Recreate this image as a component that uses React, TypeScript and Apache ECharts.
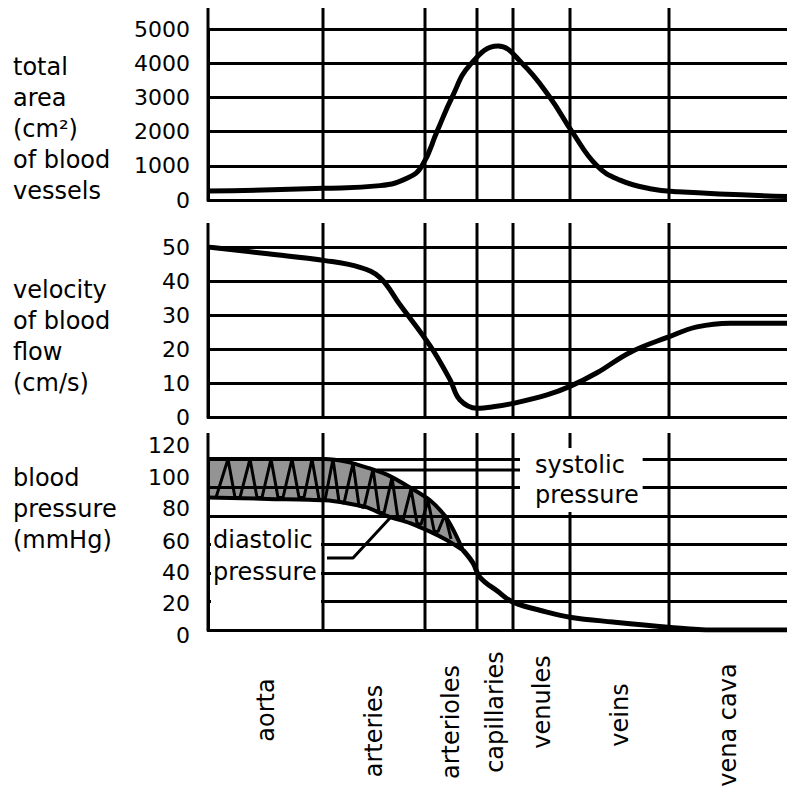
import React, { useEffect, useRef } from 'react';
import * as echarts from 'echarts';

// ---- data ----
const categories = ['aorta', 'arteries', 'arterioles', 'capillaries', 'venules', 'veins', 'vena cava'];
// boundaries between vessel segments along the (arbitrary) path axis
const bounds = [0, 115, 217, 269, 305, 362, 461, 579];

// total cross-sectional area (cm²)
const areaX = [0, 115, 172, 200, 214, 229, 244, 262, 290, 314, 342, 364, 389, 412, 442, 470, 579];
const areaY = [260, 340, 420, 650, 1000, 2000, 3000, 3950, 4500, 4000, 3000, 2000, 1000, 580, 330, 240, 100];

// velocity of blood flow (cm/s)
const velX = [0, 60, 117, 152, 172, 192, 222, 242, 252, 269, 285, 305, 339, 362, 389, 422, 460, 489, 522, 579];
const velY = [50, 48, 46, 44, 41, 33, 21, 11, 5, 2.6, 3, 4, 6.5, 9, 13, 19, 23.5, 26.5, 27.6, 27.6];

// blood pressure envelopes (mmHg)
const envX = [0, 60, 117, 139, 159, 179, 202, 222, 239, 255];
const systolicY = [120, 120, 120, 118, 114, 109, 100, 91, 78, 56];
const diastolicY = [93, 92, 91, 89, 86, 80, 75, 69, 63, 56];

// pulsating pressure trace
const pulseX = [0, 8, 20, 27, 32, 42, 49, 54, 63, 70, 75, 84, 91, 96, 104, 111, 117, 125, 131, 136, 145, 151, 156, 165, 171, 176, 184, 190, 195, 203, 209, 213, 220, 226, 230, 237, 243];
const pulseY = [93, 93, 120, 93, 93, 120, 93, 93, 120, 93, 93, 120, 93, 93, 120, 92, 91, 120, 90, 89, 117, 87, 86, 113, 83, 82, 107, 78, 77, 99, 75, 74, 91, 70, 69, 81, 64];

// mean pressure after the pulse dies out
const meanX = [255, 265, 272, 290, 305, 339, 362, 405, 460, 505, 579];
const meanY = [56, 47, 37, 27, 19.6, 12.6, 9, 5.6, 2, 0, 0];

// leader lines for annotations (path unit, mmHg)
const diaLeaderX = [119, 145, 182];
const diaLeaderY = [50.5, 50.5, 78.6];
const sysLeaderX = [169, 312];
const sysLeaderY = [112.3, 112.3];

const yMax = [5000, 50, 120];
const yInterval = [1000, 10, 20];
const panelTitles = [
  'total\narea\n(cm²)\nof blood\nvessels',
  'velocity\nof blood\nflow\n(cm/s)',
  'blood\npressure\n(mmHg)',
];

// ---- layout ----
const FONT = '"DejaVu Sans", "Liberation Sans", sans-serif';
const grids = [
  { left: 208, top: 29, width: 579, height: 171 },
  { left: 208, top: 247, width: 579, height: 170 },
  { left: 208, top: 459, width: 579, height: 171 },
];
const lineExtendTop = [21, 24, 26];
const titleTop = [51.5, 274.5, 462.5];
const labelCenterY = [710, 731, 722, 712, 702, 715, 725];
// hand-drawn pressure tick labels sit slightly off their grid lines: [padTop, padBottom]
const bpLabelPad: Record<number, number[]> = {
  0: [10, 0], 20: [3, 0], 40: [0, 2], 60: [0, 7], 80: [0, 16], 100: [0, 21], 120: [0, 28],
};

const zip = (xs: number[], ys: number[]) => xs.map((x, i) => [x, ys[i]]);

export default function App() {
  const ref = useRef<HTMLDivElement>(null);

  useEffect(() => {
    if (!ref.current) return;
    const chart = echarts.init(ref.current, null, { renderer: 'svg' });

    const baseLabel = { color: '#000', fontSize: 22, fontFamily: FONT };
    const bpRich: Record<string, any> = {};
    Object.keys(bpLabelPad).forEach((k) => {
      const p = bpLabelPad[Number(k)];
      bpRich['p' + k] = { ...baseLabel, padding: [p[0], 0, p[1], 0] };
    });

    const xAxis = grids.map((_, i) => ({
      type: 'value',
      gridIndex: i,
      min: 0,
      max: bounds[bounds.length - 1],
      axisLine: { show: true, lineStyle: { color: '#000', width: 3 } },
      axisTick: { show: false },
      axisLabel: { show: false },
      splitLine: { show: false },
    }));
    const yAxis = grids.map((_, i) => ({
      type: 'value',
      gridIndex: i,
      min: 0,
      max: yMax[i],
      interval: yInterval[i],
      axisLine: { show: true, lineStyle: { color: '#000', width: 3 } },
      axisTick: { show: false },
      axisLabel:
        i === 2
          ? { ...baseLabel, margin: 18, formatter: (v: number) => `{p${v}|${v}}`, rich: bpRich }
          : { ...baseLabel, margin: 18, formatter: (v: number) => String(v) },
      splitLine: { show: true, lineStyle: { color: '#000', width: 3 } },
    }));

    const blackLine = (w: number) => ({ color: '#000', width: w });

    chart.setOption({
      animation: false,
      backgroundColor: '#fff',
      grid: grids.map((g) => ({ ...g, containLabel: false })),
      xAxis,
      yAxis,
      series: [
        {
          type: 'line', xAxisIndex: 0, yAxisIndex: 0, data: zip(areaX, areaY),
          smooth: 0.45, symbol: 'none', lineStyle: blackLine(5), z: 3,
        },
        {
          type: 'line', xAxisIndex: 1, yAxisIndex: 1, data: zip(velX, velY),
          smooth: 0.4, symbol: 'none', lineStyle: blackLine(5), z: 3,
        },
        {
          // shaded band between systolic and diastolic pressure
          type: 'custom', xAxisIndex: 2, yAxisIndex: 2, data: [[0, 0]], z: 2,
          renderItem: (_p: any, api: any) => {
            const top = envX.map((x, i) => api.coord([x, systolicY[i]]));
            const bot = envX.map((x, i) => api.coord([x, diastolicY[i]])).reverse();
            return {
              type: 'polygon',
              shape: { points: top.concat(bot) },
              style: { fill: 'rgba(0,0,0,0.42)' },
            };
          },
        },
        {
          type: 'line', xAxisIndex: 2, yAxisIndex: 2, data: zip(envX, systolicY),
          smooth: 0.3, symbol: 'none', lineStyle: blackLine(4), z: 3,
        },
        {
          type: 'line', xAxisIndex: 2, yAxisIndex: 2, data: zip(envX, diastolicY),
          smooth: 0.3, symbol: 'none', lineStyle: blackLine(4), z: 3,
        },
        {
          type: 'line', xAxisIndex: 2, yAxisIndex: 2, data: zip(pulseX, pulseY),
          symbol: 'none', lineStyle: blackLine(3), z: 4,
        },
        {
          type: 'line', xAxisIndex: 2, yAxisIndex: 2, data: zip(meanX, meanY),
          smooth: 0.4, symbol: 'none', lineStyle: blackLine(5), z: 3,
        },
        {
          type: 'line', xAxisIndex: 2, yAxisIndex: 2, data: zip(diaLeaderX, diaLeaderY),
          symbol: 'none', lineStyle: blackLine(3), z: 3,
        },
        {
          type: 'line', xAxisIndex: 2, yAxisIndex: 2, data: zip(sysLeaderX, sysLeaderY),
          symbol: 'none', lineStyle: blackLine(3), z: 3,
        },
      ],
    });

    const px = (g: number, x: number, y: number) =>
      chart.convertToPixel({ gridIndex: g } as any, [x, y]) as number[];

    const graphics: any[] = [];
    // vertical segment boundaries
    grids.forEach((_, g) => {
      bounds.slice(0, -1).forEach((b) => {
        const top = px(g, b, yMax[g]);
        const bot = px(g, b, 0);
        graphics.push({
          type: 'line', z: 5,
          shape: { x1: top[0], y1: top[1] - lineExtendTop[g], x2: bot[0], y2: bot[1] },
          style: { stroke: '#000', lineWidth: 3 },
        });
      });
    });
    // panel titles
    panelTitles.forEach((t, g) => {
      graphics.push({
        type: 'text', z: 10, x: 13, y: titleTop[g],
        style: { text: t, fontSize: 24, fontFamily: FONT, fill: '#000', lineHeight: 31, verticalAlign: 'top', align: 'left' },
      });
    });
    // category labels
    categories.forEach((c, i) => {
      const cx = px(2, (bounds[i] + bounds[i + 1]) / 2, 0)[0];
      graphics.push({
        type: 'text', z: 10, x: cx, y: labelCenterY[i], rotation: Math.PI / 2,
        style: { text: c, fontSize: 24, fontFamily: FONT, fill: '#000', align: 'center', verticalAlign: 'middle' },
      });
    });
    // diastolic label with white box
    const boxTL = px(2, 3, 76);
    const boxBR = px(2, 113, 3);
    graphics.push({
      type: 'rect', z: 8,
      shape: { x: boxTL[0], y: boxTL[1], width: boxBR[0] - boxTL[0], height: boxBR[1] - boxTL[1] },
      style: { fill: '#fff' },
    });
    const diaPos = px(2, 5, 51.6);
    graphics.push({
      type: 'text', z: 10, x: diaPos[0], y: diaPos[1],
      style: { text: 'diastolic\npressure', fontSize: 24, fontFamily: FONT, fill: '#000', lineHeight: 32, align: 'left', verticalAlign: 'middle' },
    });
    const sysPos = px(2, 312, 105.3);
    graphics.push({
      type: 'text', z: 10, x: sysPos[0], y: sysPos[1],
      style: {
        text: 'systolic\npressure', fontSize: 24, fontFamily: FONT, fill: '#000', lineHeight: 30,
        align: 'left', verticalAlign: 'middle', backgroundColor: '#fff', padding: [2, 4, 2, 15],
      },
    });

    chart.setOption({ graphic: graphics });
    return () => chart.dispose();
  }, []);

  return (
    <div
      ref={ref}
      style={{ position: 'fixed', left: 0, top: 0, width: 787, height: 794, background: '#fff' }}
    />
  );
}
